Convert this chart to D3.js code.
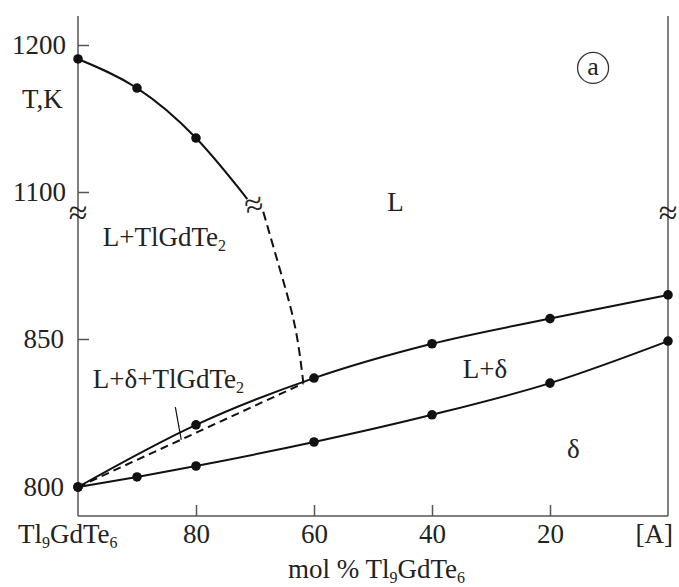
<!DOCTYPE html>
<meta charset="utf-8">

<style>
body { margin: 0; background: #fff; }
svg text {
  font-family: "Liberation Serif", "DejaVu Serif", "Noto Serif", serif !important;
  fill: #222;
}
</style>

<svg class="chart"></svg>

<script src="https://d3js.org/d3.v7.min.js"></script>
<script>

  // mol % Tl9GdTe6 -> temperature, K
  var xTicks     = [80, 60, 40, 20];
  var yTicksHigh = [1200, 1100];
  var yTicksLow  = [850];

  var liquidusHigh     = [[100, 1190.5], [90, 1170.7], [80, 1136.7]];
  var liquidusHighTail = [[71.3, 1095.2]];
  var liquidusDashed   = [[68.6, 893], [65.7, 873], [63.2, 854], [61.8, 835]];
  var eutecticDashed   = [[100, 800], [61.8, 835]];
  var liquidusLow      = [[100, 800], [80, 821], [60, 836.8], [40, 848.4], [20, 856.9], [0, 864.9]];
  var solidus          = [[100, 800], [90, 803.4], [80, 807.1], [60, 815.2], [40, 824.4], [20, 835.1], [0, 849.3]];
  var leader           = [[83.5, 827], [82.5, 815.9]];

  var width  = 679,
      height = 587;

  var axisTop    = 16,
      axisBottom = 516;

  var x = d3.scaleLinear()
      .domain([100, 0])
      .range([78, 668]);

  // broken temperature axis: two linear pieces
  var yHigh = d3.scaleLinear()
      .domain([1100, 1200])
      .range([192, 45]);

  var yLow = d3.scaleLinear()
      .domain([800, 850])
      .range([487, 339]);

  function y(t) {
    return t > 1000 ? yHigh(t) : yLow(t);
  }

  var svg = d3.select(".chart")
      .attr("width", width)
      .attr("height", height);

  svg.append("rect")
      .attr("width", width)
      .attr("height", height)
      .attr("fill", "#fff");

  // frame: left, bottom, right
  var frame = svg.append("g")
      .attr("stroke", "#555")
      .attr("stroke-width", 1.5);

  frame.append("line")
      .attr("x1", x(100)).attr("x2", x(100))
      .attr("y1", axisTop).attr("y2", axisBottom);
  frame.append("line")
      .attr("x1", x(100)).attr("x2", x(0))
      .attr("y1", axisBottom).attr("y2", axisBottom);
  frame.append("line")
      .attr("x1", x(0)).attr("x2", x(0))
      .attr("y1", axisTop).attr("y2", axisBottom);

  function styleAxis(g) {
    g.select(".domain").remove();
    g.attr("font-size", null).attr("font-family", null);
    g.selectAll("line").attr("stroke", "#555").attr("stroke-width", 1.5);
    g.selectAll("text").style("font-size", "27px").attr("fill", "#222");
  }

  var fmt = d3.format("d");

  svg.append("g")
      .attr("transform", "translate(" + x(100) + ",0)")
      .call(d3.axisLeft(yHigh).tickValues(yTicksHigh).tickFormat(fmt).tickSizeInner(-11).tickSizeOuter(0).tickPadding(12))
      .call(styleAxis);

  svg.append("g")
      .attr("transform", "translate(" + x(100) + ",0)")
      .call(d3.axisLeft(yLow).tickValues(yTicksLow).tickFormat(fmt).tickSizeInner(-11).tickSizeOuter(0).tickPadding(14))
      .call(styleAxis);

  // 800 label without tick mark
  svg.append("text")
      .attr("x", x(100) - 14)
      .attr("y", yLow(800))
      .attr("dy", "0.32em")
      .attr("text-anchor", "end")
      .style("font-size", "27px")
      .text("800");

  svg.append("g")
      .attr("transform", "translate(0," + axisBottom + ")")
      .call(d3.axisBottom(x).tickValues(xTicks).tickFormat(fmt).tickSizeInner(-11).tickSizeOuter(0).tickPadding(8))
      .call(styleAxis);

  // axis break marks
  [x(100), x(0)].forEach(function(px) {
    svg.append("text")
        .attr("x", px)
        .attr("y", yHigh(1085) + 10)
        .attr("text-anchor", "middle")
        .style("font-size", "34px")
        .text("≈");
  });

  svg.append("text")
      .attr("transform", "translate(" + x(69.7) + "," + (yHigh(1090) + 9) + ") rotate(-15)")
      .attr("text-anchor", "middle")
      .style("font-size", "34px")
      .text("≈");

  // curves
  var curveNat = d3.line()
      .x(function(d) { return x(d[0]); })
      .y(function(d) { return y(d[1]); })
      .curve(d3.curveNatural);

  var curveMono = d3.line()
      .x(function(d) { return x(d[0]); })
      .y(function(d) { return y(d[1]); })
      .curve(d3.curveMonotoneX);

  var curves = svg.append("g")
      .attr("fill", "none")
      .attr("stroke", "#111")
      .attr("stroke-width", 2);

  curves.append("path").attr("d", curveNat(liquidusHigh.concat(liquidusHighTail)));
  curves.append("path").attr("d", curveNat(liquidusDashed)).attr("stroke-dasharray", "9,5");
  curves.append("path").attr("d", curveMono(eutecticDashed)).attr("stroke-dasharray", "8,5");
  curves.append("path").attr("d", curveMono(liquidusLow));
  curves.append("path").attr("d", curveMono(solidus));
  curves.append("path").attr("d", curveMono(leader)).attr("stroke-width", 1.2);

  svg.append("g")
      .attr("fill", "#111")
    .selectAll("circle")
      .data(liquidusHigh.concat(liquidusLow, solidus))
    .enter().append("circle")
      .attr("cx", function(d) { return x(d[0]); })
      .attr("cy", function(d) { return y(d[1]); })
      .attr("r", 4.8);

  // text with "_n" subscripts
  function label(px, py, str, anchor) {
    var t = svg.append("text")
        .attr("x", px)
        .attr("y", py)
        .attr("text-anchor", anchor || "start")
        .style("font-size", "27px");
    str.split(/_(\d)/).forEach(function(part, i) {
      if (part === "") return;
      if (i % 2) {
        t.append("tspan").attr("dy", 5).style("font-size", "16px").text(part);
      } else {
        t.append("tspan").attr("dy", i ? -5 : 0).text(part);
      }
    });
    return t;
  }

  label(x(100) - 56, yHigh(1157), "T,K");
  label(x(95.8), yLow(881.4), "L+TlGdTe_2");
  label(x(47.6), yHigh(1087), "L");
  label(x(34.8), yLow(836.8), "L+δ");
  label(x(17.1), yLow(809.8), "δ");
  label(x(97.5), yLow(833.4), "L+δ+TlGdTe_2");
  label(x(100) - 60, axisBottom + 27, "Tl_9GdTe_6");
  label(x(0) + 5, axisBottom + 27, "[A]", "end");
  label(x(49.4), axisBottom + 62, "mol % Tl_9GdTe_6", "middle");

  // circled panel letter
  svg.append("circle")
      .attr("cx", x(12.7))
      .attr("cy", yHigh(1184.4))
      .attr("r", 15.5)
      .attr("fill", "none")
      .attr("stroke", "#333")
      .attr("stroke-width", 1.3);
  svg.append("text")
      .attr("x", x(12.7))
      .attr("y", yHigh(1184.4) + 7)
      .attr("text-anchor", "middle")
      .style("font-size", "26px")
      .text("a");

</script>
